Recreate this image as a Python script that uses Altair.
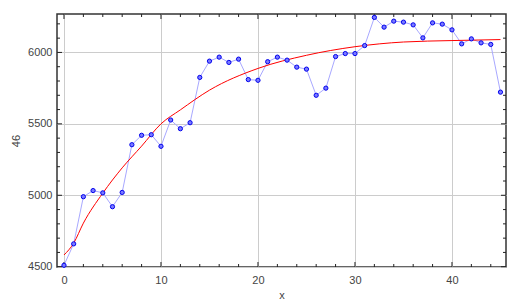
import altair as alt
import pandas as pd

# ---- data ----
x_vals = list(range(46))
y_vals = [4510, 4660, 4990, 5033, 5017, 4920, 5020, 5354, 5420, 5424,
          5343, 5527, 5466, 5508, 5825, 5939, 5967, 5930, 5953, 5810,
          5805, 5935, 5967, 5946, 5897, 5883, 5700, 5750, 5971, 5992,
          5992, 6048, 6245, 6177, 6219, 6212, 6193, 6102, 6207, 6198,
          6158, 6060, 6095, 6067, 6056, 5722]

fit_x = [0, 1, 2, 4, 6, 8, 10, 12, 15, 20, 25, 30, 35, 40, 45]
fit_y = [4582, 4665, 4805, 5015, 5192, 5344, 5500, 5598, 5736, 5888, 5980, 6040, 6073, 6083, 6090]

x_major = [0, 10, 20, 30, 40]
x_minor = [2, 4, 6, 8, 12, 14, 16, 18, 22, 24, 26, 28, 32, 34, 36, 38, 42, 44]
y_major = [4500, 5000, 5500, 6000]
y_minor = [4600, 4700, 4800, 4900, 5100, 5200, 5300, 5400, 5600, 5700, 5800, 5900, 6100, 6200]

x_title = "x"
y_title = "46"

W, H = 449, 253
FONT = "Liberation Sans"

series = pd.DataFrame({"x": x_vals, "y": y_vals})
fit = pd.DataFrame({"x": fit_x, "y": fit_y})

xs = alt.Scale(domain=[-0.72, 45.57], nice=False, zero=False)
ys = alt.Scale(domain=[4498, 6269], nice=False, zero=False)

x_axis = alt.Axis(values=x_major, title=x_title, format="d", grid=True, gridColor="#cccccc", gridWidth=1,
                  ticks=False, domain=False, labelPadding=7, labelFont=FONT, labelFontSize=11,
                  labelColor="#444", titleFont=FONT, titleFontSize=11, titleFontWeight="normal",
                  titleColor="#444", titlePadding=4)
y_axis = alt.Axis(values=y_major, title=y_title, format="d", grid=True, gridColor="#cccccc", gridWidth=1,
                  ticks=False, domain=False, labelPadding=5, labelFont=FONT, labelFontSize=11,
                  labelColor="#444", titleFont=FONT, titleFontSize=11, titleFontWeight="normal",
                  titleColor="#444", titlePadding=6)


def X(f):
    return alt.X(f, scale=xs, axis=x_axis)


def Y(f):
    return alt.Y(f, scale=ys, axis=y_axis)


line = alt.Chart(series).mark_line(color="#a8a8ff", strokeWidth=1).encode(x=X("x:Q"), y=Y("y:Q"))
pts = alt.Chart(series).mark_point(shape="circle", filled=True, size=18, fill="#7a7aff",
                                    stroke="#0000ee", strokeWidth=1, opacity=1).encode(
    x=X("x:Q"), y=Y("y:Q"))
fitline = alt.Chart(fit).mark_line(color="#ff0000", strokeWidth=1, interpolate="monotone").encode(
    x=X("x:Q"), y=Y("y:Q"))


def xticks(vals, size):
    d = pd.DataFrame({"v": vals})
    b = alt.Chart(d).mark_rule(color="#222", strokeWidth=1).encode(
        x=X("v:Q"), y=alt.value(H), y2=alt.value(H - size))
    t = alt.Chart(d).mark_rule(color="#222", strokeWidth=1).encode(
        x=X("v:Q"), y=alt.value(0), y2=alt.value(size))
    return [b, t]


def yticks(vals, size):
    d = pd.DataFrame({"v": vals})
    l = alt.Chart(d).mark_rule(color="#222", strokeWidth=1).encode(
        y=Y("v:Q"), x=alt.value(0), x2=alt.value(size))
    r = alt.Chart(d).mark_rule(color="#222", strokeWidth=1).encode(
        y=Y("v:Q"), x=alt.value(W), x2=alt.value(W - size))
    return [l, r]


layers = xticks(x_major, 5) + xticks(x_minor, 3) + yticks(y_major, 5) + yticks(y_minor, 3) + [line, fitline, pts]

chart = alt.layer(*layers).properties(
    width=W, height=H,
    autosize=alt.AutoSizeParams(type="none"),
    padding={"left": 57, "top": 14, "right": 16, "bottom": 36},
    background="white",
).configure_view(stroke="#333", strokeWidth=1.5)

chart.save("out.html", embed_options={"renderer": "svg", "actions": False})
